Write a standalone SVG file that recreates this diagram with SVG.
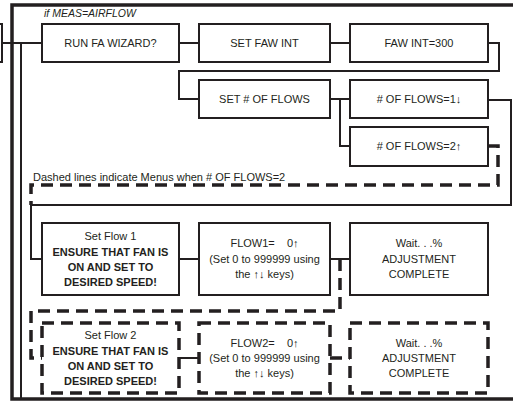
<svg xmlns="http://www.w3.org/2000/svg" width="513" height="405" viewBox="0 0 513 405">
<style>
.box{fill:#fff;stroke:#231f20;stroke-width:2}
.dbox{fill:#fff;stroke:#231f20;stroke-width:3.5;stroke-dasharray:12 7}
.ln{fill:none;stroke:#231f20;stroke-width:2}
.dl{fill:none;stroke:#231f20;stroke-width:3.5;stroke-dasharray:12 7}
.fr{fill:none;stroke:#231f20;stroke-width:3.5}
text{font-family:"Liberation Sans",Arial,sans-serif;font-size:11px;fill:#231f20;text-anchor:middle}
.b{font-weight:bold}
.l{text-anchor:start}
.it{font-style:italic;font-size:10.5px}
</style>
<rect width="513" height="405" fill="#fff"/>
<g id="frame">
<path class="fr" d="M513,5 H12 V399 H513"/>
<rect class="box" x="-10" y="24" width="12" height="38"/>
</g>
<g id="connectors">
<path class="ln" d="M2,43 H42"/>
<path class="ln" d="M21,43 V399"/>
<path class="ln" d="M179,43 H199"/>
<path class="ln" d="M330,43 H350"/>
<path class="ln" d="M488,43 H499 V71 H179 V99 H199"/>
<path class="ln" d="M330,99 H350"/>
<path class="ln" d="M340,99 V146 H350"/>
<path class="ln" d="M488,100 H511 V205 H31 V259 H42"/>
<path class="dl" d="M488,146 H498 V185 H31 V205"/>
<path class="ln" d="M179,259 H199"/>
<path class="ln" d="M330,259 H350"/>
<path class="dl" d="M340,259 V311 H31 V358 H42"/>
<path class="ln" d="M179,358 H199"/>
<path class="dl" d="M330,358 H350"/>
</g>
<text class="l it" x="44" y="17">if MEAS=AIRFLOW</text>
<text class="l" x="33" y="181">Dashed lines indicate Menus when # OF FLOWS=2</text>
<g id="run-fa-wizard"><rect class="box" x="42" y="24" width="137" height="38"/><text x="110.5" y="47">RUN FA WIZARD?</text></g>
<g id="set-faw-int"><rect class="box" x="199" y="24" width="131" height="38"/><text x="264.5" y="47">SET FAW INT</text></g>
<g id="faw-int-300"><rect class="box" x="350" y="24" width="138" height="38"/><text x="419" y="47">FAW INT=300</text></g>
<g id="set-num-flows"><rect class="box" x="199" y="80" width="131" height="38"/><text x="264.5" y="103">SET # OF FLOWS</text></g>
<g id="flows-1"><rect class="box" x="350" y="80" width="138" height="38"/><text x="419" y="103"># OF FLOWS=1↓</text></g>
<g id="flows-2"><rect class="box" x="350" y="127" width="138" height="39"/><text x="419" y="150"># OF FLOWS=2↑</text></g>
<g id="set-flow-1"><rect class="box" x="42" y="223" width="137" height="72"/>
<text x="110.5" y="240">Set Flow 1</text>
<text class="b" x="110.5" y="256">ENSURE THAT FAN IS</text>
<text class="b" x="110.5" y="271">ON AND SET TO</text>
<text class="b" x="110.5" y="286">DESIRED SPEED!</text></g>
<g id="flow1"><rect class="box" x="199" y="223" width="131" height="72"/>
<text x="264.5" y="247" style="white-space:pre">FLOW1=    0↑</text>
<text x="264.5" y="263">(Set 0 to 999999 using</text>
<text x="264.5" y="278">the ↑↓ keys)</text></g>
<g id="wait-1"><rect class="box" x="350" y="223" width="138" height="72"/>
<text x="419" y="247">Wait. . .%</text>
<text x="419" y="263">ADJUSTMENT</text>
<text x="419" y="278">COMPLETE</text></g>
<g id="set-flow-2"><rect class="dbox" x="42" y="323" width="137" height="70"/>
<text x="110.5" y="339">Set Flow 2</text>
<text class="b" x="110.5" y="355">ENSURE THAT FAN IS</text>
<text class="b" x="110.5" y="370">ON AND SET TO</text>
<text class="b" x="110.5" y="385">DESIRED SPEED!</text></g>
<g id="flow2"><rect class="dbox" x="199" y="323" width="131" height="70"/>
<text x="264.5" y="347" style="white-space:pre">FLOW2=    0↑</text>
<text x="264.5" y="362">(Set 0 to 999999 using</text>
<text x="264.5" y="377">the ↑↓ keys)</text></g>
<g id="wait-2"><rect class="dbox" x="350" y="323" width="138" height="70"/>
<text x="419" y="347">Wait. . .%</text>
<text x="419" y="362">ADJUSTMENT</text>
<text x="419" y="377">COMPLETE</text></g>
</svg>
